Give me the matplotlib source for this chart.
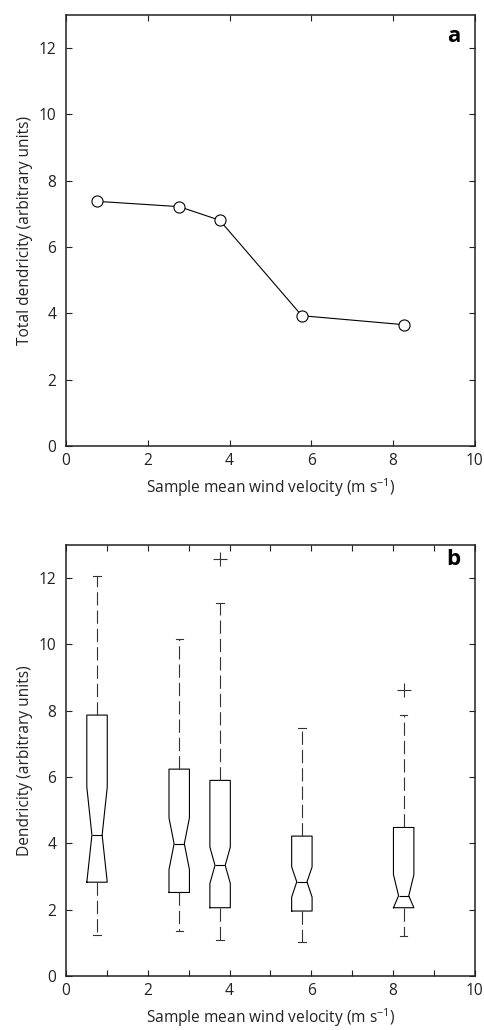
import matplotlib
matplotlib.use("Agg")
import matplotlib.pyplot as plt

plt.rcParams['font.family'] = ['Open Sans', 'DejaVu Sans']
plt.rcParams['mathtext.fontset'] = 'custom'
plt.rcParams['mathtext.rm'] = 'Open Sans'

# Panel a data
wind_a = [0.76, 2.77, 3.76, 5.77, 8.26]
total_dend = [7.38, 7.22, 6.81, 3.93, 3.66]

# Panel b data (box statistics per wind velocity sample)
wind_b = [0.76, 2.77, 3.77, 5.77, 8.26]
q1 = [2.83, 2.52, 2.06, 1.96, 2.06]
med = [4.25, 3.99, 3.34, 2.84, 2.42]
q3 = [7.87, 6.24, 5.90, 4.22, 4.48]
notch_lo = [2.83, 3.21, 2.79, 2.38, 2.06]
notch_hi = [5.70, 4.77, 3.89, 3.29, 3.06]
whis_lo = [1.24, 1.35, 1.09, 1.04, 1.20]
whis_hi = [12.06, 10.17, 11.25, 7.49, 7.87]
fliers = [[], [], [12.58], [], [8.64]]

xlabel = 'Sample mean wind velocity (m s$^{-1}$)'
txtc = '#222222'
fs = 11.2

fig = plt.figure(figsize=(4.85, 10.30), dpi=100)
ax_a = fig.add_axes([0.136, 0.567, 0.843, 0.4184])
ax_b = fig.add_axes([0.136, 0.0524, 0.843, 0.4185])

for ax in (ax_a, ax_b):
    ax.set_xlim(0, 10)
    ax.set_ylim(0, 13)
    ax.tick_params(direction='in', top=True, right=True, length=4, width=0.8,
                   labelsize=fs, colors=txtc)
    ax.tick_params(axis='y', pad=7)
    ax.tick_params(axis='x', pad=5)
    for s in ax.spines.values():
        s.set_linewidth(1.1)
        s.set_color(txtc)
    ax.set_yticks([0, 2, 4, 6, 8, 10, 12])
    ax.set_xlabel(xlabel, fontsize=fs, color=txtc, labelpad=5)

# Panel a
ax_a.plot(wind_a, total_dend, color='black', lw=0.8, marker='o', ms=8,
          mfc='white', mec='black', mew=0.8)
ax_a.set_xticks([0, 2, 4, 6, 8, 10])
ax_a.set_ylabel('Total dendricity (arbitrary units)', fontsize=fs, color=txtc, labelpad=4)
ax_a.text(0.965, 0.975, 'a', transform=ax_a.transAxes, ha='right', va='top',
          fontsize=16, fontweight='bold')

# Panel b
stats = []
for i in range(len(wind_b)):
    stats.append(dict(med=med[i], q1=q1[i], q3=q3[i], cilo=notch_lo[i], cihi=notch_hi[i],
                      whislo=whis_lo[i], whishi=whis_hi[i], fliers=fliers[i]))
ax_b.bxp(stats, positions=wind_b, widths=0.5, capwidths=0.18, shownotches=True,
         manage_ticks=False,
         boxprops=dict(color='black', lw=0.8),
         medianprops=dict(color='black', lw=0.8),
         whiskerprops=dict(color='#333333', lw=0.8, linestyle=(0, (12, 4.5))),
         capprops=dict(color='#333333', lw=0.8),
         flierprops=dict(marker='+', markersize=10, markeredgecolor='#333333', markeredgewidth=0.8))
ax_b.set_xticks(range(0, 11))
ax_b.set_xticklabels(['0', '', '2', '', '4', '', '6', '', '8', '', '10'])
ax_b.set_ylabel('Dendricity (arbitrary units)', fontsize=fs, color=txtc, labelpad=4)
ax_b.text(0.965, 0.99, 'b', transform=ax_b.transAxes, ha='right', va='top',
          fontsize=16, fontweight='bold')

fig.savefig('out.png', dpi=100)
